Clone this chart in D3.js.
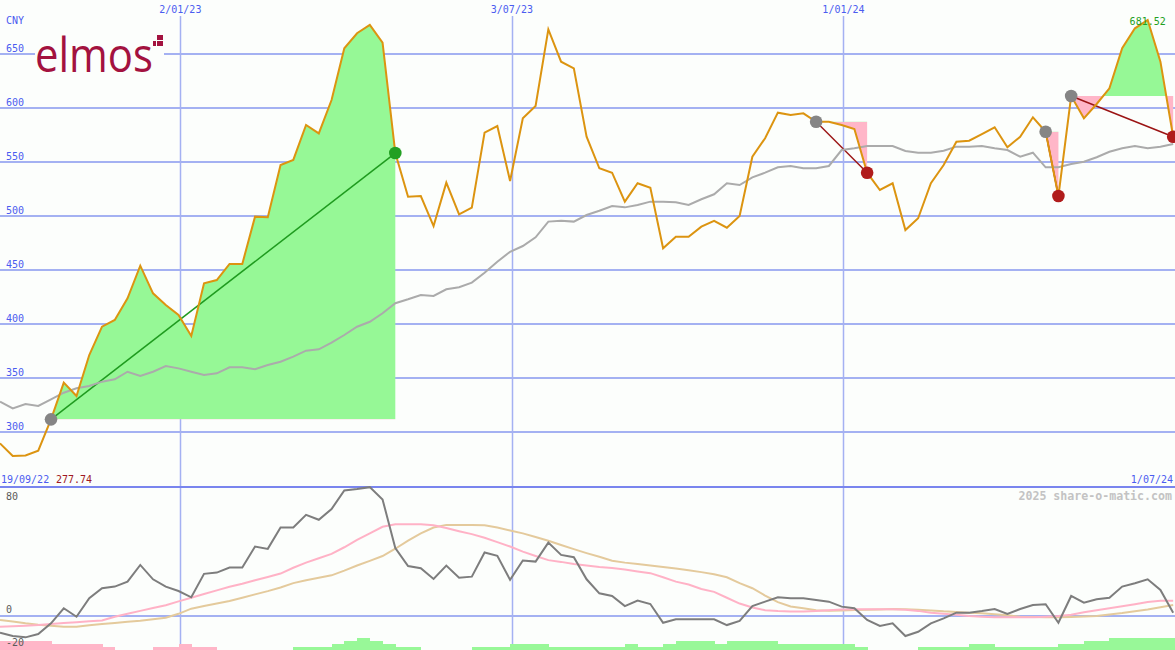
<!DOCTYPE html>
<html><head><meta charset="utf-8">
<script src="https://cdn.jsdelivr.net/npm/d3@7"></script>
<style>html,body{margin:0;padding:0;background:#fcfefc;} svg{display:block;}</style>
</head><body><svg id="c" width="1175" height="650"></svg>
<script>
// ---------- DATA ----------
const startDate = new Date(2022, 8, 25);
const endDate = new Date(2024, 6, 1);
const weeks = d3.timeWeek.range(startDate, endDate); // weekly closes (93)
const firstDateLabel = "19/09/22";
const lastDateLabel = "1/07/24";
const currency = "CNY";
const dateTicks = [new Date(2023,0,2), new Date(2023,6,3), new Date(2024,0,1)];
const dateTickLabels = ["2/01/23", "3/07/23", "1/01/24"];
const priceTicks = [300, 350, 400, 450, 500, 550, 600, 650];
const oscTicks = [80, 0, -20];

const price = [289.5,277.74,278.2,282.7,311.7,345.7,333.3,371.3,397.5,403.7,
  423.8,454.0,428.4,417.6,408.3,388.9,437.7,440.7,455.6,455.6,
  499.4,498.8,547.2,551.9,584.3,576.5,607.4,655.3,669.2,676.9,
  660.5,558.3,517.9,518.5,490.7,530.9,501.5,507.7,577.2,583.3,
  532.4,590.4,601.9,672.8,642.9,636.7,573.4,544.2,540.1,513.3,
  530.3,526.2,470.1,480.8,480.8,490.1,495.6,489.2,500.0,554.9,
  572.0,595.7,593.5,595.1,587.3,587.3,584.3,580.6,540.1,524.1,
  530.3,487.0,497.9,530.3,547.2,568.8,569.7,575.9,582.1,563.6,
  573.4,591.4,578.0,518.5,611.1,590.4,603.7,618.2,655.3,673.8,
  681.52,642.9,573.4];

const movingAvg = [328.1,321.9,325.9,324.1,330.3,336.4,340.5,342.6,346.6,348.8,
  355.8,351.9,355.8,361.1,358.9,355.8,352.8,354.3,359.9,359.9,
  358.1,362.0,365.1,369.8,375.3,376.6,382.7,389.8,397.5,402.1,
  409.9,419.2,422.9,426.9,426.0,432.1,434.0,438.3,447.5,457.7,
  466.9,472.2,480.3,494.8,495.7,494.8,500.9,504.9,509.3,508.0,
  510.2,513.3,513.3,512.7,510.2,515.5,520.1,530.3,528.7,535.8,
  540.1,545.1,546.3,544.2,544.2,546.3,561.1,562.7,564.8,564.8,
  564.8,560.2,558.6,558.6,560.5,564.2,564.2,564.8,562.7,561.1,
  554.9,558.6,545.1,545.1,548.1,550.3,554.4,559.5,562.7,564.8,
  562.7,564.2,566.7];

const tradeStart = [4, 64, 82, 84];
const tradeEnd = [31, 68, 83, 92];

const momentum = [-11.4,-13.7,-14.6,-12.3,-5.0,5.3,-0.5,12.1,19.0,20.1,
  23.5,34.9,25.1,20.1,17.1,12.8,28.8,29.7,33.1,33.1,
  47.5,45.9,60.5,60.5,69.2,65.8,73.1,85.8,86.8,88.1,
  79.7,46.5,34.2,32.7,25.3,34.5,26.2,26.9,43.4,41.1,
  24.7,37.9,37.2,50.2,41.8,40.2,25.1,15.5,13.7,6.8,
  10.5,8.2,-4.6,-2.3,-2.3,-2.3,-2.3,-6.2,-3.4,6.8,
  9.8,12.8,12.1,12.1,11.0,9.8,6.4,5.3,-2.7,-6.8,
  -5.0,-13.7,-10.8,-5.0,-1.6,2.3,2.3,3.4,4.8,1.4,
  4.8,7.5,8.0,-4.6,13.7,9.1,11.4,12.5,20.1,22.4,
  25.1,17.8,2.3];

const signalFast = [-7.3,-7.0,-6.6,-6.2,-5.5,-4.8,-4.2,-3.6,-3.0,-0.5,
  1.5,3.5,5.5,7.4,10.0,12.5,15.0,17.5,20.0,22.0,
  24.5,26.7,29.0,33.0,36.5,39.5,42.5,47.0,52.0,56.5,
  61.0,62.8,62.8,62.8,62.0,60.2,58.0,56.0,53.5,50.5,
  47.5,44.0,41.0,38.2,37.0,35.5,34.5,33.5,32.8,31.8,
  30.5,29.3,26.5,23.5,21.5,18.5,16.5,12.5,8.5,5.8,
  4.0,3.4,3.0,3.0,3.5,4.0,4.4,4.6,4.6,4.6,
  4.6,4.3,3.5,2.3,1.5,0.8,0.0,-0.5,-0.9,-0.9,
  -0.9,-0.9,-0.5,0.0,0.8,2.5,4.0,5.3,6.6,8.0,
  9.5,10.5,10.5];

const signalSlow = [-2.7,-3.8,-5.0,-6.0,-6.6,-7.3,-7.3,-6.3,-5.5,-4.8,
  -4.0,-3.3,-2.2,-1.2,1.5,5.0,6.8,8.5,10.2,12.5,
  14.8,17.0,19.5,22.5,24.5,26.2,27.8,31.0,34.5,37.7,
  41.0,46.0,51.5,56.5,60.5,62.3,62.3,62.3,62.0,60.5,
  58.5,56.5,54.0,51.5,48.5,45.7,43.0,40.5,37.8,36.5,
  35.5,34.5,33.5,32.5,31.3,30.0,28.5,26.5,22.5,19.0,
  14.0,9.5,6.5,5.3,4.0,3.6,3.8,4.1,4.3,4.5,
  4.8,4.6,4.2,3.8,3.2,2.8,2.2,1.8,1.2,0.5,
  -0.5,-0.7,-0.9,-0.9,-0.6,-0.3,0.0,1.0,2.0,3.2,
  4.5,6.0,7.5];

const histogram = [-3,-3,-3,-3,-2,-2,-2,-2,-1,0,
  0,0,-1,-1,-2,-1,-1,0,0,0,
  0,0,0,1,1,1,2,3,4,3,
  2,1,1,0,0,0,0,1,1,1,
  2,2,2,1,1,1,1,1,1,2,
  1,1,2,3,3,3,2,3,3,3,
  3,2,2,2,2,2,2,1,0,0,
  0,0,1,1,1,1,2,2,1,1,
  1,1,1,2,2,3,3,4,4,4,
  4,4,4];

// ---------- DRAW ----------
const W = 1175, H = 650;
const svg = d3.select("#c");
const bg = "#fcfefc";
const gridBlue = "#a4b1f2";
const textBlue = "#4b5cf0";
const mono = "'DejaVu Sans Mono', monospace";

const x = d3.scaleTime().domain([startDate, endDate]).range([0, W]);
const y = d3.scaleLinear().domain([300, 650]).range([432, 54]);
const yL = d3.scaleLinear().domain([0, 80]).range([616, 499]);
const yH = d3.scaleLinear().domain([0, 4]).range([H, H - 12]);
const xi = i => x(weeks[i]);
const stepW = xi(1) - xi(0);

svg.append("rect").attr("width", W).attr("height", H).attr("fill", bg);
const defs = svg.append("defs");

// horizontal price gridlines
svg.append("g").selectAll("line").data(priceTicks).join("line")
  .attr("x1", 0).attr("x2", W)
  .attr("y1", d => y(d)).attr("y2", d => y(d))
  .attr("stroke", gridBlue).attr("stroke-width", 2).attr("shape-rendering", "crispEdges");

// vertical date gridlines
svg.append("g").selectAll("line").data(dateTicks).join("line")
  .attr("x1", d => Math.round(x(d)) + 0.5).attr("x2", d => Math.round(x(d)) + 0.5)
  .attr("y1", 16).attr("y2", H)
  .attr("stroke", gridBlue).attr("stroke-width", 1.5);

// lower zero line and panel separator
svg.append("line").attr("x1", 0).attr("x2", W).attr("y1", yL(0)).attr("y2", yL(0))
  .attr("stroke", gridBlue).attr("stroke-width", 2).attr("shape-rendering", "crispEdges");
svg.append("line").attr("x1", 0).attr("x2", W).attr("y1", 487).attr("y2", 487)
  .attr("stroke", "#7985ee").attr("stroke-width", 2).attr("shape-rendering", "crispEdges");

// histogram bars
svg.append("g").selectAll("rect").data(histogram.map((v, i) => ({v, i})).filter(d => d.v !== 0)).join("rect")
  .attr("x", d => xi(d.i)).attr("width", stepW + 0.5)
  .attr("y", d => yH(Math.abs(d.v))).attr("height", d => H - yH(Math.abs(d.v)))
  .attr("fill", d => d.v > 0 ? "#98f898" : "#ffb6c8")
  .attr("shape-rendering", "crispEdges");

// lower lines
const idxAll = d3.range(weeks.length);
const lowLine = arr => d3.line().x(i => xi(i)).y(i => yL(arr[i]))(idxAll);
svg.append("path").attr("d", lowLine(signalSlow)).attr("fill", "none").attr("stroke", "#e4ca9c").attr("stroke-width", 2);
svg.append("path").attr("d", lowLine(signalFast)).attr("fill", "none").attr("stroke", "#ffb2c6").attr("stroke-width", 2);
svg.append("path").attr("d", lowLine(momentum)).attr("fill", "none").attr("stroke", "#7d7d7d").attr("stroke-width", 2);

// trade fills
const fillG = svg.append("g");
tradeStart.forEach((s, k) => {
  const e = tradeEnd[k];
  const base = price[s];
  const idx = d3.range(s, e + 1);
  const area = d3.area().x(i => xi(i)).y0(y(base)).y1(i => y(price[i]));
  defs.append("clipPath").attr("id", "up" + k).append("rect")
    .attr("x", 0).attr("y", 0).attr("width", W).attr("height", y(base));
  defs.append("clipPath").attr("id", "dn" + k).append("rect")
    .attr("x", 0).attr("y", y(base)).attr("width", W).attr("height", H - y(base));
  fillG.append("path").datum(idx).attr("d", area).attr("fill", "#96f896").attr("clip-path", `url(#up${k})`);
  fillG.append("path").datum(idx).attr("d", area).attr("fill", "#ffb6c8").attr("clip-path", `url(#dn${k})`);
});

// trade connecting lines
tradeStart.forEach((s, k) => {
  const e = tradeEnd[k];
  const win = price[e] > price[s];
  svg.append("line").attr("x1", xi(s)).attr("y1", y(price[s])).attr("x2", xi(e)).attr("y2", y(price[e]))
    .attr("stroke", win ? "#1f9b1f" : "#9b1414").attr("stroke-width", 1.5);
});

// moving average and price
const mainLine = arr => d3.line().x(i => xi(i)).y(i => y(arr[i]))(idxAll);
svg.append("path").attr("d", mainLine(movingAvg)).attr("fill", "none").attr("stroke", "#ababab").attr("stroke-width", 2);
svg.append("path").attr("d", mainLine(price)).attr("fill", "none").attr("stroke", "#dc9410").attr("stroke-width", 2);

// trade dots
tradeStart.forEach((s, k) => {
  const e = tradeEnd[k];
  const win = price[e] > price[s];
  svg.append("circle").attr("cx", xi(s)).attr("cy", y(price[s])).attr("r", 6.3).attr("fill", "#858585");
  svg.append("circle").attr("cx", xi(e)).attr("cy", y(price[e])).attr("r", 6.3).attr("fill", win ? "#23a023" : "#b01c1c");
});

// ---------- TEXT ----------
const txt = (s, xx, yy, fill, anchor = "start", size = 10, weight = "normal") =>
  svg.append("text").attr("x", xx).attr("y", yy).attr("fill", fill)
    .attr("font-family", mono).attr("font-size", size).attr("font-weight", weight)
    .attr("text-anchor", anchor).text(s);

txt(currency, 6, 24, textBlue);
priceTicks.forEach(v => txt(String(v), 6, y(v) - 2, textBlue));
dateTicks.forEach((d, i) => txt(dateTickLabels[i], x(d), 13, textBlue, "middle"));
// oscillator labels: sit above their line, kept inside the panel
oscTicks.forEach(v => {
  let yy = yL(v) - 3;
  if (yy < 500) yy = 500;
  if (v < 0) yy = H - 4;
  txt(String(v), 6, yy, "#5a5a5a");
});

txt(firstDateLabel, 1, 483, textBlue);
const minP = d3.min(price);
txt(minP.toFixed(2), 56, 483, "#a01822");
txt(lastDateLabel, 1173, 483, textBlue, "end");
txt("2025 share-o-matic.com", 1172, 500, "#c3c3c3", "end", 11.6, "bold");

const maxI = d3.maxIndex(price);
txt(price[maxI].toFixed(2), xi(maxI), 25, "#22a022", "middle");

// ---------- LOGO ----------
const logo = svg.append("g");
logo.append("rect").attr("x", 35).attr("y", 30).attr("width", 129).attr("height", 46).attr("fill", bg);
logo.append("text").attr("x", 35).attr("y", 72).attr("fill", "#a3123f")
  .attr("font-family", "'Open Sans', sans-serif").attr("font-size", 47)
  .attr("textLength", 118).attr("lengthAdjust", "spacingAndGlyphs").text("elmos");
logo.append("rect").attr("x", 157).attr("y", 35).attr("width", 6).attr("height", 5).attr("fill", "#a3123f");
logo.append("rect").attr("x", 157).attr("y", 41).attr("width", 6).attr("height", 5).attr("fill", "#a3123f");
logo.append("rect").attr("x", 153).attr("y", 41).attr("width", 3).attr("height", 5).attr("fill", "#a3123f");
</script>
</body></html>
